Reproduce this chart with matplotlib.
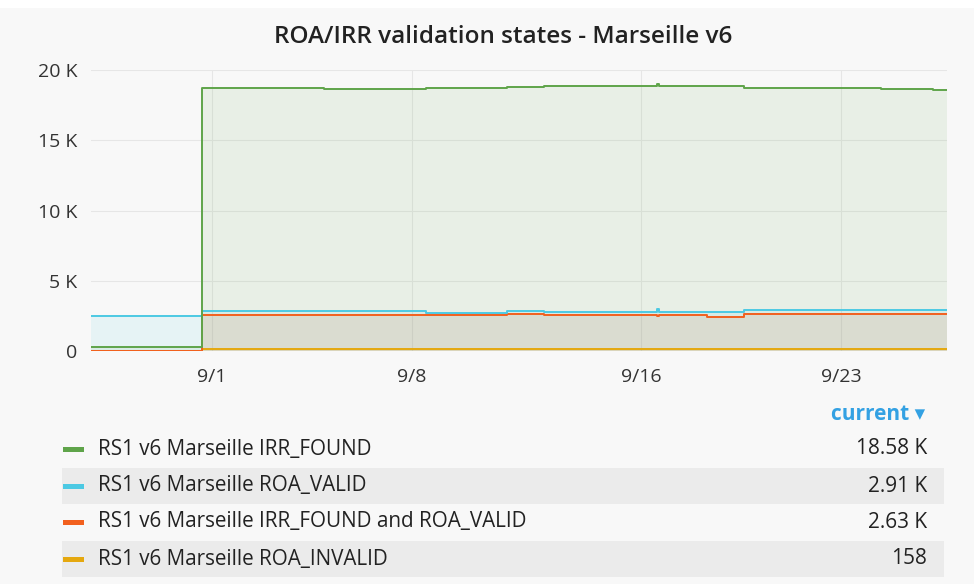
import matplotlib.pyplot as plt
from matplotlib.patches import Rectangle

plt.rcParams['font.family'] = ['Open Sans', 'DejaVu Sans']

# time in days relative to 9/1 00:00
t = [-4.23, -0.35, 3.9, 7.5, 10.3, 11.6, 15.55, 15.62, 17.3, 18.6, 23.4, 25.2, 25.7]
irr_found = [290, 18700, 18680, 18700, 18810, 18830, 18990, 18850, 18830, 18690, 18620, 18570, 18580]
roa_valid = [2500, 2830, 2820, 2740, 2860, 2790, 2990, 2810, 2760, 2930, 2950, 2910, 2910]
irr_and_roa = [20, 2570, 2560, 2530, 2600, 2550, 2480, 2570, 2450, 2650, 2640, 2630, 2630]
roa_invalid = [0, 158, 158, 158, 158, 158, 158, 158, 158, 158, 158, 158, 158]

series_names = ['RS1 v6 Marseille IRR_FOUND', 'RS1 v6 Marseille ROA_VALID',
                'RS1 v6 Marseille IRR_FOUND and ROA_VALID', 'RS1 v6 Marseille ROA_INVALID']
series_values = [irr_found, roa_valid, irr_and_roa, roa_invalid]
colores = ['#5fa44a', '#4cc9e3', '#f2601e', '#e5a80f']

tick_days = [0, 7, 15, 22]
tick_labels = ['9/1', '9/8', '9/16', '9/23']
y_ticks = [0, 5000, 10000, 15000, 20000]
y_labels = ['0', '5 K', '10 K', '15 K', '20 K']

bg = '#f8f8f8'
fig = plt.figure(figsize=(9.74, 5.84), dpi=100, facecolor=bg)
fig.patches.append(Rectangle((0, 1 - 8 / 584), 1, 8 / 584, transform=fig.transFigure,
                             facecolor='white', edgecolor='none'))

ax = fig.add_axes([91 / 974, 1 - 351 / 584, (947 - 91) / 974, 281 / 584])
ax.set_facecolor(bg)

for vals, c in zip(series_values, colores):
    ax.fill_between(t, 0, vals, step='post', color=c, alpha=0.1, linewidth=0)
# yellow first so orange sits on top at zero, like the original
for vals, c in reversed(list(zip(series_values, colores))):
    ax.plot(t, vals, drawstyle='steps-post', color=c, linewidth=1.4)

ax.set_xlim(t[0], t[-1])
ax.set_ylim(0, 20000)
ax.set_xticks(tick_days)
ax.set_xticklabels(tick_labels)
ax.set_yticks(y_ticks)
ax.set_yticklabels(y_labels)
ax.grid(True, color='#e6e6e6', linewidth=0.8)
ax.set_axisbelow(True)
for s in ax.spines.values():
    s.set_visible(False)
ax.tick_params(length=0, labelsize=14, colors='#333333', pad=10)
ax.tick_params(axis='x', pad=12)

fig.text(503 / 974, 1 - 37 / 584, 'ROA/IRR validation states - Marseille v6',
         ha='center', va='center', fontsize=17.5, fontweight='semibold', color='#222222')

# legend table
fig.text(925 / 974, 1 - 414 / 584, 'current \u25be', ha='right', va='center',
         fontsize=15, fontweight='bold', color='#33a1e3')
row_y = [449, 486, 522, 559]
for i, (name, vals, c) in enumerate(zip(series_names, series_values, colores)):
    y = 1 - row_y[i] / 584
    if i % 2 == 1:
        fig.patches.append(Rectangle((62 / 974, y - 18 / 584), (944 - 62) / 974, 36 / 584,
                                     transform=fig.transFigure, facecolor='#ebebeb',
                                     edgecolor='none'))
    fig.patches.append(Rectangle((63 / 974, y - 3 / 584), 21 / 974, 5 / 584,
                                 transform=fig.transFigure, facecolor=c, edgecolor='none'))
    fig.text(98 / 974, y, name, ha='left', va='center', fontsize=14.9, color='#222222')
    v = vals[-1]
    txt = f'{v / 1000:.2f} K' if v >= 1000 else f'{v:.0f}'
    fig.text(927 / 974, y, txt, ha='right', va='center', fontsize=15, color='#222222')

plt.savefig('out.png', dpi=100, facecolor=bg)
